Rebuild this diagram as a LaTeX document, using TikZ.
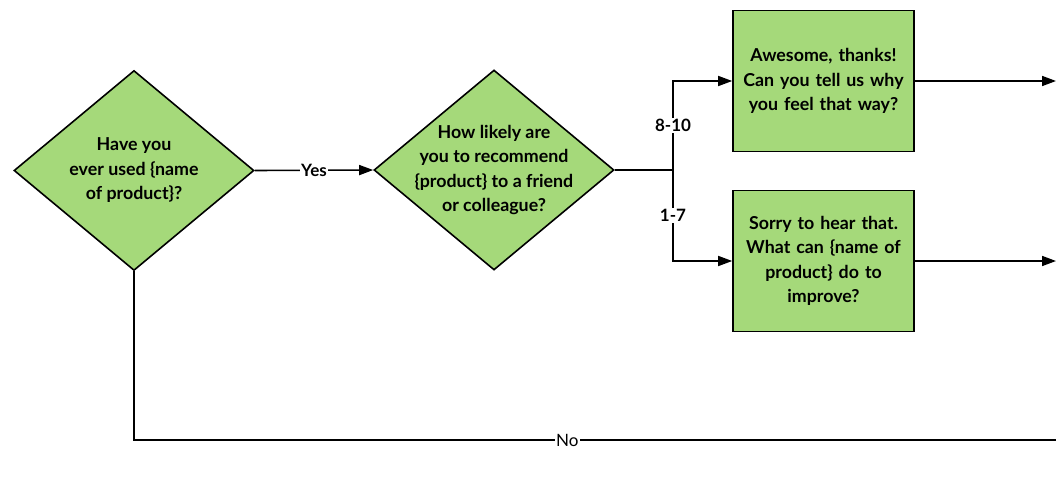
\documentclass[tikz,border=0pt]{standalone}
\usepackage{fontspec}
\setmainfont{Lato}
\usetikzlibrary{arrows.meta,shapes.geometric}
\definecolor{boxgreen}{HTML}{A5D97A}
\begin{document}
\begin{tikzpicture}[x=1pt,y=-1pt,
  line width=1.6pt,
  txt/.style={font=\bfseries\fontsize{17.8}{24.5}\selectfont,align=center,inner sep=0pt},
  decision/.style={draw=black,fill=boxgreen,line width=1.6pt,diamond,minimum width=240pt,minimum height=200pt,inner sep=0pt},
  stepbox/.style={txt,draw=black,fill=boxgreen,line width=1.6pt,rectangle,minimum width=181pt,minimum height=141pt,text width=178pt},
  conn/.style={draw=black,line width=1.6pt},
  arr/.style={conn,-{Triangle[length=14pt,width=10pt]}},
  lbl/.style={fill=white,font=\bfseries\fontsize{17}{19}\selectfont,inner sep=1pt}
]
\useasboundingbox (0,0) rectangle (1056,487);
\node[decision] (d1) at (134,170.5) {};
\node[txt] (d1t) at (d1.center) {Have you\\ever used \{name\\of product\}?};
\node[decision] (d2) at (494,170) {};
\node[txt] (d2t) at (d2.center) {How likely are\\you to recommend\\\{product\} to a friend\\or colleague?};
\node[stepbox] (b1) at (823.5,81) {Awesome, thanks!\\Can you tell us why\\you feel that way?};
\node[stepbox] (b2) at (823.5,261) {Sorry to hear that.\\What can \{name of\\product\} do to\\improve?};
\coordinate (o1) at (1056,81);
\coordinate (o2) at (1056,261);
\coordinate (nend) at (1056,440);
\coordinate (split) at (673,170);
\draw[arr] (d1.east) -- node[lbl] (yes) {Yes} (d2.west);
\draw[conn] (d2.east) -- (split);
\draw[arr] (split) -- node[lbl,pos=0.5] (l810) {8-10} (split |- b1.west) -- (b1.west);
\draw[arr] (split) -- node[lbl,pos=0.5] (l17) {1-7} (split |- b2.west) -- (b2.west);
\draw[arr] (b1.east) -- (o1);
\draw[arr] (b2.east) -- (o2);
\draw[conn] (d1.south) -- (d1.south |- nend) -- node[lbl,pos=0.47,font=\fontsize{17}{19}\selectfont] (no) {No} (nend);
\end{tikzpicture}
\end{document}
